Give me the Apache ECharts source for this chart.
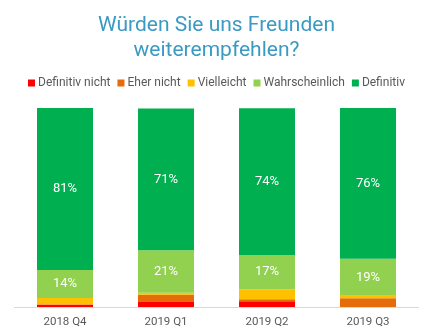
<!DOCTYPE html>
<html><head><meta charset="utf-8">
<script src="https://cdn.jsdelivr.net/npm/echarts@6/dist/echarts.min.js"></script>
<style>html,body{margin:0;padding:0;background:#fff}#c{width:433px;height:336px}</style>
</head><body><div id="c"></div>
<script>
const categories = ['2018 Q4', '2019 Q1', '2019 Q2', '2019 Q3'];
const seriesNames = ['Definitiv nicht', 'Eher nicht', 'Vielleicht', 'Wahrscheinlich', 'Definitiv'];
const definitivNicht = [1.3, 2.5, 2.9, 0];
const eherNicht = [0, 3.7, 1.0, 4.4];
const vielleicht = [3.2, 0.9, 5.0, 1.2];
const wahrscheinlich = [14.1, 21.4, 17.2, 18.6];
const definitiv = [81.4, 71.3, 73.8, 75.8];
const colors = ['#FF0000', '#E46C0A', '#FFC000', '#92D050', '#00B050'];
const allData = [definitivNicht, eherNicht, vielleicht, wahrscheinlich, definitiv];
const labelled = [false, false, false, true, true];

const chart = echarts.init(document.getElementById('c'), null, {renderer: 'canvas'});
chart.setOption({
  animation: false,
  title: {
    text: 'Würden Sie uns Freunden\nweiterempfehlen?',
    left: 'center', top: 8,
    textStyle: {fontFamily: 'Roboto', fontSize: 21, fontWeight: 'normal', color: '#3A9AC3', lineHeight: 25}
  },
  legend: {
    top: 72, left: 'center',
    itemWidth: 7, itemHeight: 7, itemGap: 7, icon: 'rect',
    textStyle: {fontFamily: 'Roboto', fontSize: 12, color: '#595959', padding: [0, 0, 0, -2]},
    data: seriesNames
  },
  grid: {left: 14.5, right: 14.5, top: 108, bottom: 29},
  xAxis: {
    type: 'category', data: categories,
    axisLine: {lineStyle: {color: '#D9D9D9'}},
    axisTick: {show: false},
    axisLabel: {fontFamily: 'Roboto', fontSize: 11.5, color: '#595959', margin: 9}
  },
  yAxis: {type: 'value', min: 0, max: 100, show: false, splitLine: {show: false}},
  series: seriesNames.map((n, i) => ({
    name: n, type: 'bar', stack: 'a', barWidth: 56,
    itemStyle: {color: colors[i]},
    data: allData[i],
    label: {
      show: labelled[i], position: 'inside', color: '#FFFFFF',
      fontFamily: 'Roboto', fontSize: 13,
      formatter: p => Math.round(p.value) + '%'
    }
  }))
});
</script></body></html>
